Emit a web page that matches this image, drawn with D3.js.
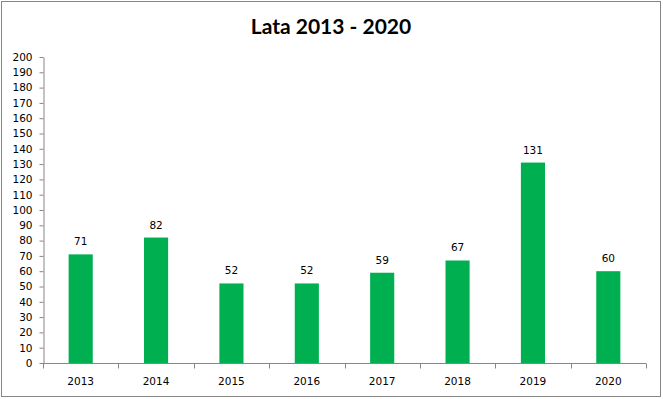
<!DOCTYPE html>
<html><head><meta charset="utf-8">
<script src="https://cdn.jsdelivr.net/npm/d3@7"></script>
<style>body{margin:0;background:#fff}svg{display:block}</style>
</head><body><svg id="c" width="663" height="399"></svg>
<script>
const categories = ["2013","2014","2015","2016","2017","2018","2019","2020"];
const values = [71, 82, 52, 52, 59, 67, 131, 60];
const yTicks = d3.range(0, 201, 10);
const title = "Lata 2013 - 2020";

const svg = d3.select("#c");
const W = 663, H = 399;
const m = {left: 43, right: 17, top: 57, bottom: 36};
const x = d3.scaleBand().domain(categories).range([m.left, W - m.right]).paddingInner(0.68).paddingOuter(0.34);
const xb = d3.scaleBand().domain(categories).range([m.left, W - m.right]);
const y = d3.scaleLinear().domain([0, 200]).range([H - m.bottom, m.top]);
const axisColor = "#868686";
const font = "'DejaVu Sans', Verdana, sans-serif";

svg.append("rect").attr("x", 1.5).attr("y", 1.5).attr("width", W - 4).attr("height", H - 4)
  .attr("fill", "#fff").attr("stroke", axisColor).attr("stroke-width", 1);

svg.append("text").attr("x", 331).attr("y", 34).attr("text-anchor", "middle")
  .attr("font-family", "Lato, 'Open Sans', sans-serif").attr("font-weight", "bold").attr("font-size", 21)
  .attr("fill", "#000").text(title);

// bars
svg.selectAll("rect.bar").data(values).join("rect").attr("class", "bar")
  .attr("x", (d, i) => x(categories[i])).attr("width", x.bandwidth())
  .attr("y", d => y(d)).attr("height", d => y(0) - y(d)).attr("fill", "#00b050");

svg.selectAll("text.val").data(values).join("text").attr("class", "val")
  .attr("x", (d, i) => x(categories[i]) + x.bandwidth() / 2).attr("y", d => y(d) - 9)
  .attr("text-anchor", "middle").attr("font-family", font).attr("font-size", 10.5).attr("fill", "#000")
  .text(d => d);

// y axis
const ya = svg.append("g").attr("transform", `translate(${m.left + 0.5},0)`)
  .call(d3.axisLeft(y).tickValues(yTicks).tickSize(4).tickPadding(7).tickSizeOuter(0));
ya.select(".domain").attr("stroke", axisColor);
ya.selectAll(".tick line").attr("stroke", axisColor);
ya.selectAll(".tick text").attr("font-family", font).attr("font-size", 10.5).attr("fill", "#000");

// x axis
const xa = svg.append("g").attr("transform", `translate(0,${y(0) + 0.5})`);
xa.append("line").attr("x1", m.left).attr("x2", W - m.right).attr("stroke", axisColor);
const bounds = categories.map(c => xb(c)).concat([W - m.right]);
xa.selectAll("line.t").data(bounds).join("line").attr("class", "t")
  .attr("x1", d => Math.round(d) + 0.5).attr("x2", d => Math.round(d) + 0.5).attr("y1", 0).attr("y2", 5).attr("stroke", axisColor);
xa.selectAll("text").data(categories).join("text")
  .attr("x", d => xb(d) + xb.bandwidth() / 2).attr("y", 21.5).attr("text-anchor", "middle")
  .attr("font-family", font).attr("font-size", 10.5).attr("fill", "#000").text(d => d);
</script></body></html>
